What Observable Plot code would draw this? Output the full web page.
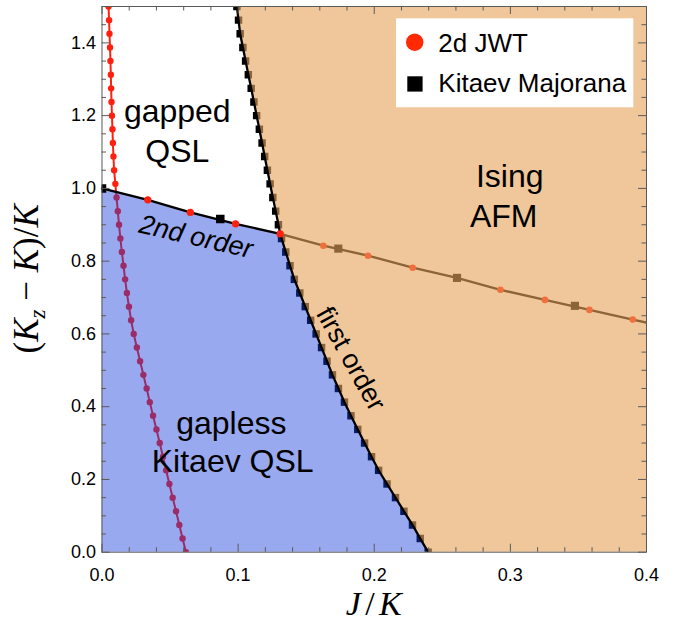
<!DOCTYPE html>
<html><head><meta charset="utf-8">
<script src="https://cdn.jsdelivr.net/npm/d3@7"></script>
<script src="https://cdn.jsdelivr.net/npm/@observablehq/plot@0.6"></script>
<style>body{margin:0;background:#fff} #chart{width:681px;height:627px}</style>
</head><body><div id="chart"></div>
<script>
// ---- data ----
// 2d JWT boundary of the gapped QSL (red dots)
const jwtY = [1.5,1.4625,1.425,1.3875,1.35,1.3125,1.275,1.2375,1.2,1.1625,1.125,1.0875,1.05,1.0125,0.975,0.9375,0.9,0.8625,0.825,0.7875,0.75,0.7125,0.675,0.6375,0.6,0.5625,0.525,0.4875,0.45,0.4125,0.375,0.3375,0.3,0.2625,0.225,0.1875,0.15,0.1125,0.075,0.0375,0];
const jwtJ = [0.0048,0.0052,0.0055,0.0059,0.0062,0.0065,0.0067,0.0070,0.0073,0.0077,0.0080,0.0084,0.0089,0.0098,0.0107,0.0116,0.0125,0.0135,0.0146,0.0158,0.0170,0.0183,0.0198,0.0214,0.0233,0.0256,0.0280,0.0304,0.0328,0.0351,0.0375,0.0400,0.0424,0.0448,0.0471,0.0495,0.0519,0.0544,0.0568,0.0592,0.0617];
// first-order boundary (Kitaev Majorana squares)
const foY = [0,0.0375,0.075,0.1125,0.15,0.1875,0.225,0.2625,0.3,0.3375,0.375,0.4125,0.45,0.4875,0.525,0.5625,0.6,0.6375,0.675,0.7125,0.75,0.7875,0.825,0.8625,0.9,0.9375,0.975,1.0125,1.05,1.0875,1.125,1.1625,1.2,1.2375,1.275,1.3125,1.35,1.3875,1.425,1.4625,1.5];
const foJ = [0.2396,0.2338,0.2281,0.2218,0.2156,0.2094,0.2032,0.1980,0.1929,0.1879,0.1829,0.1781,0.1737,0.1693,0.1653,0.1613,0.1573,0.1533,0.1493,0.1453,0.1413,0.1381,0.1350,0.1319,0.1296,0.1276,0.1255,0.1235,0.1215,0.1195,0.1176,0.1156,0.1136,0.1116,0.1096,0.1075,0.1055,0.1035,0.1015,0.1003,0.0991];
// triple point
const tripleJ = 0.1309, tripleY = 0.875;
// second-order line (2d JWT dots), from (0,1) to the triple point
const soJ = [0,0.0336,0.0649,0.0981,0.1309];
const soY = [1.0,0.9687,0.934,0.9026,0.875];
const soKitJ = [0,0.0869];
const soKitY = [1.0,0.916];
// Ising line (2d JWT dots and Kitaev Majorana squares)
const isingJ = [0.1309,0.1626,0.1954,0.2282,0.2608,0.2927,0.3254,0.3581,0.3899,0.4226];
const isingY = [0.875,0.8425,0.815,0.782,0.754,0.7213,0.6935,0.666,0.6396,0.612];
const isingKitJ = [0.1736,0.2608,0.3474];
const isingKitY = [0.8345,0.754,0.6772];
// ticks
const xTicks = [0,0.1,0.2,0.3,0.4];
const xMinor = [0.02,0.04,0.06,0.08,0.12,0.14,0.16,0.18,0.22,0.24,0.26,0.28,0.32,0.34,0.36,0.38];
const yTicks = [0,0.2,0.4,0.6,0.8,1.0,1.2,1.4];
const yMinor = [0.05,0.1,0.15,0.25,0.3,0.35,0.45,0.5,0.55,0.65,0.7,0.75,0.85,0.9,0.95,1.05,1.1,1.15,1.25,1.3,1.35,1.45];
// labels
const regionText = ["gapped","QSL","Ising","AFM","gapless","Kitaev QSL"];
const regionX = [0.0553,0.0553,0.2995,0.2951,0.095,0.096];
const regionY = [1.212,1.1006,1.0333,0.9233,0.3535,0.248];

// ---- build ----
const W = 681, H = 627, mL = 101.5, mR = 35, mT = 6, mB = 75.3;
const innerW = W - mL - mR, innerH = H - mT - mB;
const zip = (xs, ys) => xs.map((x, i) => ({x, y: ys[i]}));
const jwt = zip(jwtJ, jwtY);
const fo = zip(foJ, foY);
const foLine = [...fo.filter(d => d.y < tripleY), {x: tripleJ, y: tripleY}, ...fo.filter(d => d.y > tripleY)];
const so = zip(soJ, soY);
const soDots = so.slice(1);
const blueData = [...fo.filter(d => d.y < tripleY), ...so.slice().sort((a, b) => a.y - b.y)];
const ising = zip(isingJ, isingY);
const isingKit = zip(isingKitJ, isingKitY);
const soKit = zip(soKitJ, soKitY);
const regions = regionText.map((t, i) => ({t, x: regionX[i], y: regionY[i]}));

const RED = "#ff2010", BLUE = "rgb(23,59,218)", ORANGE = "rgb(230,164,90)", FRAME = "#5a5a5a";
const sq = "square";

const chart = Plot.plot({
  width: W, height: H,
  marginLeft: mL, marginRight: mR, marginTop: mT, marginBottom: mB,
  style: {fontFamily: "'Liberation Sans', Arial, Helvetica, sans-serif", fontSize: "18px", background: "white", color: "black"},
  x: {domain: [0, 0.4]},
  y: {domain: [0, 1.5]},
  marks: [
    Plot.line(jwt, {x: "x", y: "y", stroke: RED, strokeWidth: 2, clip: true}),
    Plot.dot(jwt, {x: "x", y: "y", r: 3.2, fill: RED, clip: true}),
    Plot.line(ising, {x: "x", y: "y", stroke: "black", strokeWidth: 2.3, clip: true}),
    Plot.dot(ising, {x: "x", y: "y", r: 3.3, fill: RED, clip: true}),
    Plot.dot(isingKit, {x: "x", y: "y", r: 4.6, symbol: sq, fill: "black"}),
    Plot.dot(fo, {x: "x", y: "y", r: 4.2, symbol: sq, fill: "black", clip: true}),
    Plot.areaX(blueData, {y: "y", x1: 0, x2: "x", fill: BLUE, fillOpacity: 0.44}),
    Plot.areaX(fo, {y: "y", x1: "x", x2: 0.4, fill: ORANGE, fillOpacity: 0.61}),
    Plot.line(foLine, {x: "x", y: "y", stroke: "black", strokeWidth: 2.3, clip: true}),
    Plot.line(so, {x: "x", y: "y", stroke: "black", strokeWidth: 2.3}),
    Plot.dot(soKit, {x: "x", y: "y", r: 4.8, symbol: sq, fill: "black", clip: true}),
    Plot.dot(soDots, {x: "x", y: "y", r: 3.6, fill: RED}),
    Plot.text(regions, {x: "x", y: "y", text: "t", fontSize: 32, fill: "black"}),
    Plot.text(["2nd order"], {x: 0.069, y: 0.867, text: d => d, fontSize: 27, fontStyle: "italic", rotate: 13, fill: "black"}),
    Plot.text(["first order"], {x: 0.1827, y: 0.5316, text: d => d, fontSize: 27, rotate: 61, fill: "black"}),
    // ticks inside the frame
    Plot.tickX(xTicks, {x: d => d, insetTop: innerH - 8, stroke: FRAME}),
    Plot.tickX(xTicks, {x: d => d, insetBottom: innerH - 8, stroke: FRAME}),
    Plot.tickX(xMinor, {x: d => d, insetTop: innerH - 4.5, stroke: FRAME}),
    Plot.tickX(xMinor, {x: d => d, insetBottom: innerH - 4.5, stroke: FRAME}),
    Plot.tickY(yTicks, {y: d => d, insetRight: innerW - 8, stroke: FRAME}),
    Plot.tickY(yTicks, {y: d => d, insetLeft: innerW - 8, stroke: FRAME}),
    Plot.tickY(yMinor, {y: d => d, insetRight: innerW - 4.5, stroke: FRAME}),
    Plot.tickY(yMinor, {y: d => d, insetLeft: innerW - 4.5, stroke: FRAME}),
    Plot.frame({stroke: FRAME, strokeWidth: 1}),
    Plot.axisX(xTicks, {tickSize: 0, tickPadding: 16, fontSize: 18, tickFormat: d3.format(".1f"), label: null, fill: "black"}),
    Plot.axisY(yTicks, {tickSize: 0, tickPadding: 6, fontSize: 18, tickFormat: d3.format(".1f"), label: null, fill: "black"})
  ]
});
document.getElementById("chart").appendChild(chart);

// axis titles (math-style) and legend
const svg = d3.select(chart);
const serif = "'Liberation Serif', 'DejaVu Serif', serif";
const xl = svg.append("text").attr("x", mL + innerW / 2).attr("y", 615).attr("text-anchor", "middle")
  .attr("font-family", serif).attr("font-size", 34).attr("fill", "black")
  .attr("textLength", 56).attr("lengthAdjust", "spacing");
xl.append("tspan").attr("font-style", "italic").text("J");
xl.append("tspan").text("/");
xl.append("tspan").attr("font-style", "italic").text("K");

const yl = svg.append("text").attr("transform", `translate(38,${mT + innerH / 2}) rotate(-90)`)
  .attr("text-anchor", "middle").attr("font-family", serif).attr("font-size", 35).attr("fill", "black");
yl.append("tspan").text("(");
yl.append("tspan").attr("font-style", "italic").text("K");
yl.append("tspan").attr("font-style", "italic").attr("font-size", 23).attr("dy", 7).text("z");
yl.append("tspan").attr("dy", -7).text(" \u2212 ");
yl.append("tspan").attr("font-style", "italic").text("K");
yl.append("tspan").text(")/");
yl.append("tspan").attr("font-style", "italic").text("K");

const lg = svg.append("g").attr("font-family", "'Liberation Sans', Arial, sans-serif").attr("font-size", 26).attr("text-anchor", "start");
lg.append("rect").attr("x", 396).attr("y", 18.3).attr("width", 237.3).attr("height", 89).attr("fill", "white");
lg.append("circle").attr("cx", 414.7).attr("cy", 42.2).attr("r", 8.7).attr("fill", "#ff2a00");
lg.append("text").attr("x", 438.3).attr("y", 51.7).attr("text-anchor", "start").attr("fill", "black").text("2d JWT");
lg.append("rect").attr("x", 407.3).attr("y", 76.3).attr("width", 15.3).attr("height", 15.3).attr("fill", "black");
lg.append("text").attr("x", 438.3).attr("y", 91.7).attr("text-anchor", "start").attr("fill", "black").text("Kitaev Majorana");
</script></body></html>
